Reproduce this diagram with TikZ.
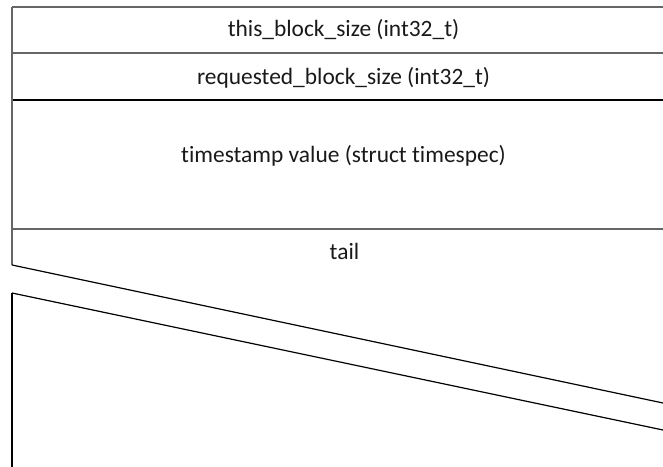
\documentclass[tikz,border=0pt]{standalone}
\usepackage{fontspec}
\setmainfont[Ligatures={NoCommon,NoContextual}]{Carlito}
\begin{document}
\begin{tikzpicture}[x=1bp,y=-1bp,
  lbl/.style={font=\fontsize{23.5}{26}\selectfont, text=black!90, inner sep=0pt, anchor=base},
  grayline/.style={draw=black!60, line width=1.2bp},
  blackline/.style={draw=black, line width=1.2bp}]
\useasboundingbox (0,0) rectangle (663,467);
% coordinates
\coordinate (tl) at (12,7);
\coordinate (tr) at (663,7);
\coordinate (l1) at (12,53);
\coordinate (r1) at (663,53);
\coordinate (l2) at (12,100);
\coordinate (r2) at (663,100);
\coordinate (l3) at (12,229);
\coordinate (r3) at (663,229);
\coordinate (l4) at (12,265);
\coordinate (r4) at (663,403);
\coordinate (l5) at (12,293);
\coordinate (r5) at (663,430);
\coordinate (lb) at (12,467);
% lines
\draw[grayline] (tl) -- (tr);
\draw[grayline] (l1) -- (r1);
\draw[blackline] (l2) -- (r2);
\draw[grayline] (l3) -- (r3);
\draw[grayline] (tl) -- (l4);
\draw[blackline] (l4) -- (r4);
\draw[blackline] (l5) -- (r5);
\draw[blackline] (l5) -- (lb);
% labels
\node[lbl] (a) at (343.5,37) {this\_block\_size (int32\_t)};
\node[lbl] (b) at (343.5,85) {requested\_block\_size (int32\_t)};
\node[lbl] (c) at (343.5,163) {timestamp value (struct timespec)};
\node[lbl] (d) at (344.5,260) {tail};
\end{tikzpicture}
\end{document}
